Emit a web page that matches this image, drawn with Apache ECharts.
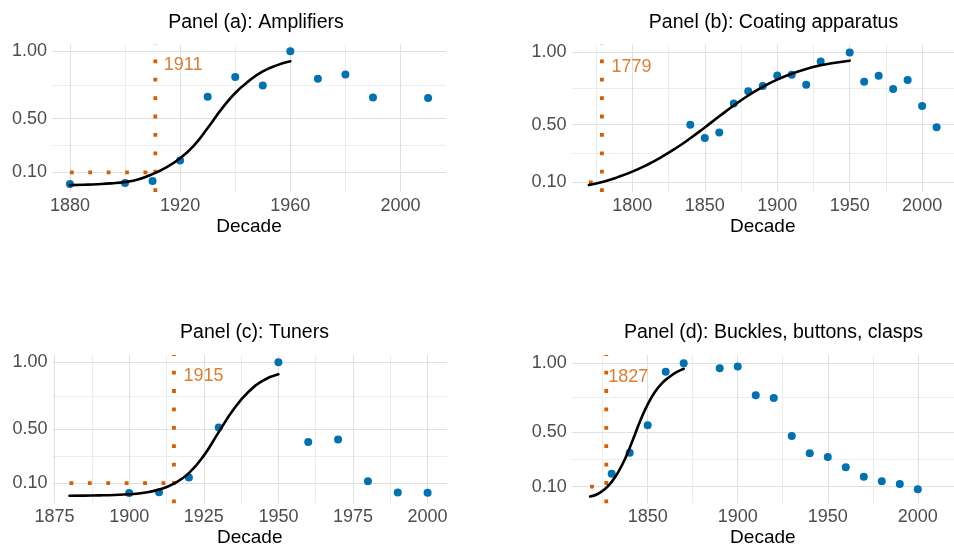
<!DOCTYPE html>
<html><head><meta charset="utf-8">
<script src="https://cdn.jsdelivr.net/npm/echarts@6/dist/echarts.min.js"></script>
<style>html,body{margin:0;padding:0;background:#fff}#c{width:954px;height:550px}</style>
</head><body><div id="c"></div>
<script>
// ---------------- data ----------------
const panelTitles = ['Panel (a): Amplifiers', 'Panel (b): Coating apparatus', 'Panel (c): Tuners', 'Panel (d): Buckles, buttons, clasps'];

const decadesA = [1880, 1900, 1910, 1920, 1930, 1940, 1950, 1960, 1970, 1980, 1990, 2010];
const valuesA  = [0.014, 0.021, 0.036, 0.189, 0.662, 0.808, 0.746, 1.0, 0.795, 0.827, 0.657, 0.652];
const curveYearsA = [1880, 1885, 1890, 1895, 1900, 1905, 1910, 1915, 1920, 1925, 1930, 1935, 1940, 1945, 1950, 1955, 1960];
const curveValsA  = [0.006, 0.009, 0.013, 0.019, 0.029, 0.050, 0.088, 0.138, 0.205, 0.30, 0.43, 0.57, 0.69, 0.78, 0.85, 0.895, 0.925];

const decadesB = [1840, 1850, 1860, 1870, 1880, 1890, 1900, 1910, 1920, 1930, 1950, 1960, 1970, 1980, 1990, 2000, 2010];
const valuesB  = [0.499, 0.408, 0.446, 0.647, 0.731, 0.768, 0.841, 0.845, 0.777, 0.938, 1.0, 0.797, 0.838, 0.747, 0.809, 0.629, 0.483];
const curveYearsB = [1770, 1780, 1790, 1800, 1810, 1820, 1830, 1840, 1850, 1860, 1870, 1880, 1890, 1900, 1910, 1920, 1930, 1940, 1950];
const curveValsB  = [0.082, 0.105, 0.137, 0.175, 0.221, 0.275, 0.337, 0.406, 0.481, 0.558, 0.633, 0.702, 0.762, 0.812, 0.853, 0.886, 0.911, 0.929, 0.943];

const decadesC = [1900, 1910, 1920, 1930, 1950, 1960, 1970, 1980, 1990, 2000];
const valuesC  = [0.026, 0.033, 0.142, 0.514, 1.0, 0.406, 0.425, 0.115, 0.031, 0.028];
const curveYearsC = [1880, 1885, 1890, 1895, 1900, 1905, 1910, 1915, 1920, 1925, 1930, 1935, 1940, 1945, 1950];
const curveValsC  = [0.006, 0.007, 0.009, 0.012, 0.017, 0.028, 0.052, 0.097, 0.175, 0.305, 0.48, 0.65, 0.78, 0.865, 0.91];

const decadesD = [1830, 1840, 1850, 1860, 1870, 1890, 1900, 1910, 1920, 1930, 1940, 1950, 1960, 1970, 1980, 1990, 2000];
const valuesD  = [0.194, 0.348, 0.548, 0.937, 1.0, 0.964, 0.976, 0.767, 0.747, 0.47, 0.343, 0.317, 0.242, 0.172, 0.139, 0.119, 0.081];
const curveYearsD = [1818, 1822, 1826, 1830, 1834, 1838, 1842, 1846, 1850, 1854, 1858, 1862, 1866, 1870];
const curveValsD  = [0.028, 0.045, 0.08, 0.135, 0.215, 0.32, 0.45, 0.585, 0.70, 0.79, 0.855, 0.90, 0.935, 0.96];

const thresholdYears = [1911, 1779, 1915, 1827];
const thresholdLevel = 0.1;
const labelLevel = 0.9;

const xMajorTicks = [[1880, 1920, 1960, 2000], [1800, 1850, 1900, 1950, 2000], [1875, 1900, 1925, 1950, 1975, 2000], [1850, 1900, 1950, 2000]];
const xMinorTicks = [[1900, 1940, 1980], [1775, 1825, 1875, 1925, 1975], [1887.5, 1912.5, 1937.5, 1962.5, 1987.5], [1825, 1875, 1925, 1975]];
const yMajorTicks = [0.1, 0.5, 1.0];
const yMinorTicks = [0.3, 0.75];

// ---------------- layout / style ----------------
const xRanges = [[1873.5, 2016.5], [1758, 2022], [1874.3, 2006.5], [1807.8, 2020.1]];
const yRanges = [[-0.045, 1.05], [0.034, 1.055], [-0.05, 1.054], [-0.021, 1.06]];
const grids = [
  {left: 52, top: 44.5, width: 394, height: 147.5},
  {left: 571.5, top: 44.5, width: 394, height: 147.5},
  {left: 52.5, top: 355, width: 394.5, height: 148.3},
  {left: 571.7, top: 355, width: 394, height: 148.3}
];
const titleCenters = [[251, 7.5], [768.5, 7.5], [249.5, 317.5], [768.5, 317.5]];
const labelGaps = [8, 9, 9, 1.5];

const FONT = "'Liberation Sans', Arial, sans-serif";
const BLUE = '#0072B2', ORANGE = '#D55E00';
const MAJOR = '#E0E0E0', MINOR = '#EBEBEB';

const panels = [
  [decadesA, valuesA, curveYearsA, curveValsA],
  [decadesB, valuesB, curveYearsB, curveValsB],
  [decadesC, valuesC, curveYearsC, curveValsC],
  [decadesD, valuesD, curveYearsD, curveValsD]
];

const zip = (xs, ys) => xs.map((x, i) => [x, ys[i]]);

const option = {
  animation: false,
  backgroundColor: '#fff',
  textStyle: {fontFamily: FONT},
  title: panelTitles.map((t, i) => ({
    text: t, left: titleCenters[i][0], top: titleCenters[i][1], textAlign: 'center',
    textStyle: {fontFamily: FONT, fontSize: 19.5, fontWeight: 'normal', color: '#000'}
  })),
  grid: grids.map(g => Object.assign({containLabel: false}, g)),
  xAxis: grids.map((g, i) => ({
    type: 'value', gridIndex: i, min: xRanges[i][0], max: xRanges[i][1],
    name: 'Decade', nameLocation: 'middle', nameGap: 25,
    nameTextStyle: {fontFamily: FONT, fontSize: 19, color: '#000'},
    axisLine: {show: false}, axisTick: {show: false}, splitLine: {show: false},
    axisLabel: {customValues: xMajorTicks[i], margin: 5, fontFamily: FONT, fontSize: 18, color: '#4D4D4D',
      formatter: v => String(v)}
  })),
  yAxis: grids.map((g, i) => ({
    type: 'value', gridIndex: i, min: yRanges[i][0], max: yRanges[i][1],
    axisLine: {show: false}, axisTick: {show: false}, splitLine: {show: false},
    axisLabel: {customValues: yMajorTicks, margin: 5, fontFamily: FONT, fontSize: 18, color: '#4D4D4D',
      formatter: v => Number(v).toFixed(2)}
  })),
  series: []
};

panels.forEach((p, i) => {
  const [dec, val, cy, cv] = p;
  const gridLines = [];
  xMinorTicks[i].forEach(v => gridLines.push({xAxis: v, lineStyle: {color: MINOR, width: 0.9, type: 'solid'}}));
  yMinorTicks.forEach(v => gridLines.push({yAxis: v, lineStyle: {color: MINOR, width: 0.9, type: 'solid'}}));
  xMajorTicks[i].forEach(v => gridLines.push({xAxis: v, lineStyle: {color: MAJOR, width: 1.1, type: 'solid'}}));
  yMajorTicks.forEach(v => gridLines.push({yAxis: v, lineStyle: {color: MAJOR, width: 1.1, type: 'solid'}}));
  option.series.push({
    type: 'line', xAxisIndex: i, yAxisIndex: i, data: [], z: 0, silent: true,
    markLine: {z: 0, zlevel: 0, silent: true, symbol: ['none', 'none'], label: {show: false}, animation: false, data: gridLines}
  });
  // threshold dotted lines
  const dotted = {color: ORANGE, width: 3.8, type: [3.8, 14.6], cap: 'butt'};
  option.series.push({
    type: 'line', xAxisIndex: i, yAxisIndex: i, z: 3, silent: true, showSymbol: false, symbol: 'none',
    data: [[thresholdYears[i], yRanges[i][0]], [thresholdYears[i], yRanges[i][1]]],
    lineStyle: dotted
  });
  option.series.push({
    type: 'line', xAxisIndex: i, yAxisIndex: i, z: 3, silent: true, showSymbol: false, symbol: 'none',
    data: [[cy[0], thresholdLevel], [thresholdYears[i], thresholdLevel]],
    lineStyle: dotted
  });
  // points
  option.series.push({
    type: 'scatter', xAxisIndex: i, yAxisIndex: i, z: 4, symbolSize: 8,
    itemStyle: {color: BLUE, opacity: 1}, data: zip(dec, val)
  });
  // fitted curve
  option.series.push({
    type: 'line', xAxisIndex: i, yAxisIndex: i, z: 5, smooth: 0.5,
    showSymbol: false, symbol: 'none', data: zip(cy, cv),
    lineStyle: {color: '#000', width: 2.6, cap: 'round', join: 'round'}
  });
  // threshold label
  option.series.push({
    type: 'scatter', xAxisIndex: i, yAxisIndex: i, z: 6, symbolSize: 1, silent: true,
    itemStyle: {color: 'rgba(0,0,0,0)'},
    data: [[thresholdYears[i], labelLevel]],
    label: {show: true, position: 'right', distance: labelGaps[i], formatter: String(thresholdYears[i]),
      fontFamily: FONT, fontSize: 18, color: ORANGE}
  });
});

const chart = echarts.init(document.getElementById('c'), null, {renderer: 'canvas'});
chart.setOption(option);
</script></body></html>
